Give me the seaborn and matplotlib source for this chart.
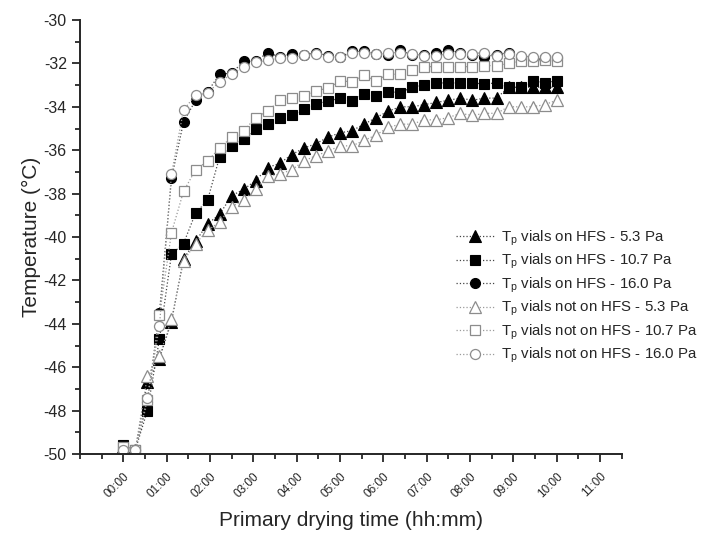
import numpy as np
import pandas as pd
import seaborn as sns
import matplotlib
matplotlib.use("Agg")
import matplotlib.pyplot as plt
from matplotlib.ticker import MultipleLocator, FixedLocator

# sampling grid: 37 points, 0 .. 10 h
n_points = 37
time_h = [k * 10.0 / 36 for k in range(n_points)]

tri_on_53 = [-49.7, -49.8, -46.7, -45.6, -43.9, -41.0, -40.2, -39.4, -38.95, -38.1,
             -37.8, -37.4, -36.8, -36.6, -36.2, -35.9, -35.7, -35.4, -35.2, -35.1,
             -34.8, -34.5, -34.2, -34.0, -34.0, -33.9, -33.8, -33.7, -33.6, -33.7,
             -33.6, -33.6, -33.1, -33.1, -33.1, -33.1, -33.1]
sq_on_107 = [-49.6, -49.8, -48.0, -44.7, -40.8, -40.3, -38.9, -38.3, -36.3, -35.8,
             -35.5, -35.0, -34.8, -34.5, -34.4, -34.1, -33.85, -33.75, -33.6, -33.75,
             -33.4, -33.5, -33.3, -33.35, -33.1, -33.0, -32.9, -32.9, -32.9, -32.9,
             -32.95, -32.9, -33.1, -33.1, -32.8, -32.9, -32.8]
circ_on_160 = [-49.8, -49.8, -47.6, -43.5, -37.3, -34.7, -33.7, -33.3, -32.5, -32.45,
               -31.9, -31.9, -31.5, -31.7, -31.55, -31.6, -31.5, -31.65, -31.7, -31.45,
               -31.45, -31.55, -31.6, -31.4, -31.6, -31.6, -31.5, -31.4, -31.5, -31.6,
               -31.7, -31.6, -31.5, -31.7, -31.8, -31.8, -31.75]
tri_off_53 = [-49.8, -49.8, -46.4, -45.5, -43.8, -41.1, -40.3, -39.7, -39.3, -38.6,
              -38.3, -37.8, -37.2, -37.1, -36.9, -36.5, -36.25, -36.05, -35.8, -35.8,
              -35.55, -35.3, -34.95, -34.8, -34.8, -34.6, -34.6, -34.5, -34.3, -34.4,
              -34.3, -34.3, -34.0, -34.0, -34.0, -33.9, -33.7]
sq_off_107 = [-49.7, -49.8, -47.5, -43.6, -39.8, -37.9, -36.9, -36.5, -35.9, -35.4,
              -35.1, -34.5, -34.2, -33.7, -33.6, -33.5, -33.25, -33.15, -32.8, -32.85,
              -32.55, -32.8, -32.5, -32.5, -32.3, -32.15, -32.15, -32.15, -32.15, -32.15,
              -32.1, -32.1, -32.0, -31.9, -31.9, -31.85, -31.9]
circ_off_160 = [-49.8, -49.8, -47.4, -44.1, -37.1, -34.15, -33.45, -33.35, -32.85, -32.5,
                -32.15, -31.95, -31.85, -31.77, -31.77, -31.6, -31.58, -31.7, -31.7, -31.54,
                -31.54, -31.58, -31.54, -31.5, -31.55, -31.65, -31.65, -31.55, -31.55, -31.55,
                -31.5, -31.65, -31.55, -31.65, -31.7, -31.7, -31.7]

labels = [
    r"T$_\mathregular{p}$ vials on HFS - 5.3 Pa",
    r"T$_\mathregular{p}$ vials on HFS - 10.7 Pa",
    r"T$_\mathregular{p}$ vials on HFS - 16.0 Pa",
    r"T$_\mathregular{p}$ vials not on HFS - 5.3 Pa",
    r"T$_\mathregular{p}$ vials not on HFS - 10.7 Pa",
    r"T$_\mathregular{p}$ vials not on HFS - 16.0 Pa",
]
series = [tri_on_53, sq_on_107, circ_on_160, tri_off_53, sq_off_107, circ_off_160]
markers = ["^", "s", "o", "^", "s", "o"]
filled = [True, True, True, False, False, False]

x_ticks = list(range(0, 12))
x_tick_labels = [f"{h:02d}:00" for h in x_ticks]

sns.set_style("ticks")
plt.rcParams["font.family"] = ["Liberation Sans", "DejaVu Sans"]
plt.rcParams["axes.unicode_minus"] = False
plt.rcParams["mathtext.default"] = "regular"

fig = plt.figure(figsize=(7.02, 5.33), dpi=100)
ax = fig.add_axes([80 / 702, 1 - 454 / 533, (621.7 - 80) / 702, (454 - 20) / 533])

for vals, lab, mk, fl in zip(series, labels, markers, filled):
    if fl:
        kw = dict(color="#444444", markerfacecolor="black", markeredgecolor="black",
                  markeredgewidth=0.8)
    else:
        kw = dict(color="#9a9a9a", markerfacecolor="white", markeredgecolor="#8c8c8c",
                  markeredgewidth=0.9)
    ms = 8 if mk == "^" else 7.2
    sns.lineplot(x=time_h, y=vals, ax=ax, marker=mk, markersize=ms, linestyle=":",
                 linewidth=0.9, label=lab, **kw)

ax.set_xlim(-1, 11.5)
ax.set_ylim(-50, -30)
ax.xaxis.set_major_locator(FixedLocator(x_ticks))
ax.set_xticklabels(x_tick_labels, rotation=45, fontsize=8.5)
ax.xaxis.set_minor_locator(MultipleLocator(0.5))
ax.yaxis.set_major_locator(MultipleLocator(2))
ax.yaxis.set_minor_locator(MultipleLocator(1))
ax.tick_params(axis="y", which="major", labelsize=11.5, length=6, width=1.3, direction="out")
ax.tick_params(axis="x", which="major", length=6, width=1.3, direction="out", pad=6)
ax.tick_params(which="minor", length=3.5, width=1.3, direction="out")
for lab in ax.get_xticklabels():
    lab.set_ha("right")
    lab.set_rotation_mode("anchor")
sns.despine(ax=ax)
for sp in ("left", "bottom"):
    ax.spines[sp].set_linewidth(1.4)

ax.set_xlabel("Primary drying time (hh:mm)", fontsize=15, labelpad=8)
ax.set_ylabel("Temperature (°C)", fontsize=15, labelpad=2)

leg = ax.legend(loc="center left", bbox_to_anchor=(0.683, 0.362), frameon=False,
                fontsize=10.8, handlelength=2.6, handletextpad=0.4, labelspacing=0.28,
                borderaxespad=0)

fig.savefig("out.png", dpi=100)
